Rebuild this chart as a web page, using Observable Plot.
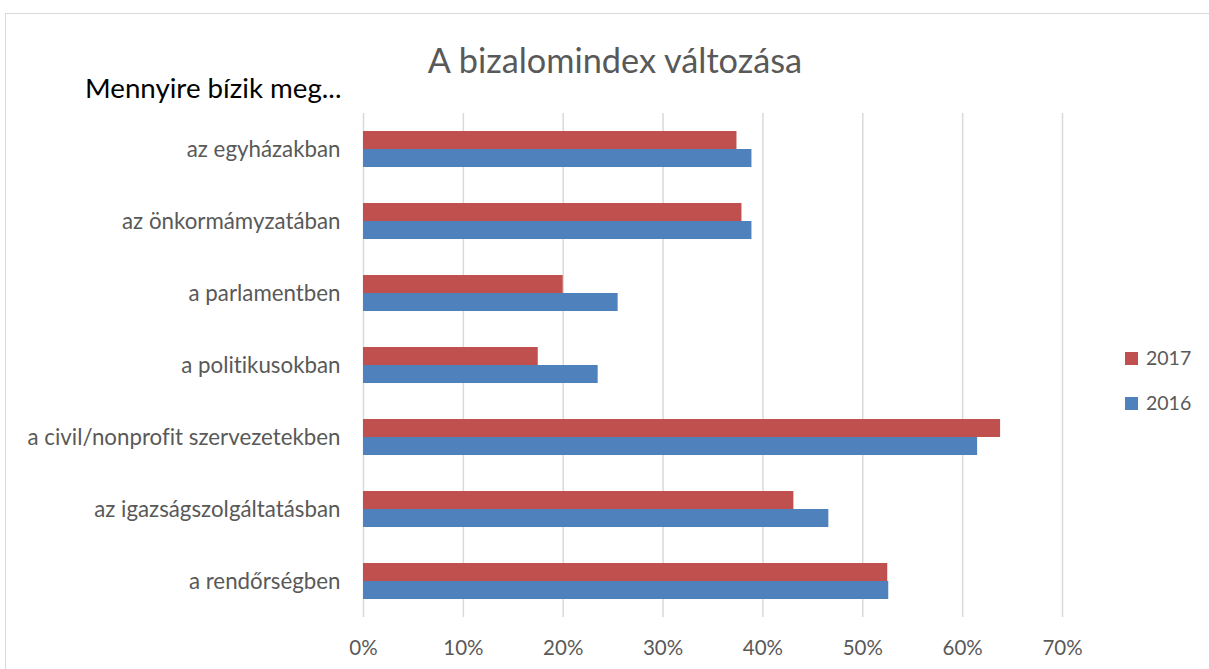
<!DOCTYPE html>
<html><head><meta charset="utf-8">
<script src="https://cdn.jsdelivr.net/npm/d3@7"></script>
<script src="https://cdn.jsdelivr.net/npm/@observablehq/plot@0.6"></script>
<style>
body{margin:0;background:#fff;font-family:Lato,"Open Sans",sans-serif;font-variant-ligatures:none}
#wrap{position:relative;width:1209px;height:669px;overflow:hidden;background:#fff}
#border{position:absolute;left:5px;top:13px;width:1300px;height:800px;border:1.5px solid #d9d9d9;box-sizing:border-box}
#plot{position:absolute;left:0;top:0}
#plot svg text{font-variant-ligatures:none}
#title{position:absolute;left:0;width:1230px;top:40px;text-align:center;font-size:34.3px;color:#595959;line-height:40px}
#sub{position:absolute;left:85px;top:73px;font-size:27.7px;color:#000;line-height:30px}
.leg{position:absolute;left:1125px;font-size:19.5px;color:#595959;line-height:20px;display:flex;align-items:center}
.sw{width:13px;height:13px;margin-right:8px}
</style></head>
<body><div id="wrap"><div id="border"></div><div id="plot"></div>
<div id="title">A bizalomindex változása</div>
<div id="sub">Mennyire bízik meg...</div>
<div id="legend"></div></div>
<script>
const categories = ["az egyházakban","az önkormámyzatában","a parlamentben","a politikusokban","a civil/nonprofit szervezetekben","az igazságszolgáltatásban","a rendőrségben"];
const values2017 = [0.374,0.379,0.200,0.175,0.638,0.431,0.525];
const values2016 = [0.389,0.389,0.255,0.235,0.615,0.466,0.526];
const years = ["2017","2016"];
const colors = ["#C0504D","#4F81BD"];
const xTicks = [0,0.1,0.2,0.3,0.4,0.5,0.6,0.7];

const d2017 = categories.map((c,i)=>({category:c, value:values2017[i]}));
const d2016 = categories.map((c,i)=>({category:c, value:values2016[i]}));

const chart = Plot.plot({
  width:1209, height:669,
  marginLeft:363, marginRight:147, marginTop:113, marginBottom:52,
  style:{background:"transparent", fontFamily:"Lato, 'Open Sans', sans-serif", fontSize:"22.3px", color:"#595959", overflow:"visible"},
  x:{domain:[0,0.7], ticks:xTicks, tickFormat:d=>Math.round(d*100)+"%", tickSize:0, tickPadding:23, label:null},
  y:{domain:categories, padding:0, tickSize:0, tickPadding:23, label:null},
  marks:[
    Plot.ruleX(xTicks,{x:d=>d, stroke:"#d9d9d9", strokeWidth:1.5}),
    Plot.barX(d2017,{x:"value", y:"category", fill:colors[0], insetTop:18, insetBottom:36}),
    Plot.barX(d2016,{x:"value", y:"category", fill:colors[1], insetTop:36, insetBottom:18})
  ]
});
chart.querySelectorAll('g[aria-label="x-axis tick label"], g[aria-label="x-axis"]').forEach(g=>g.setAttribute("font-size","20.5"));
document.getElementById("plot").appendChild(chart);

const legend = document.getElementById("legend");
const legTops = [348, 393];
years.forEach((y,i)=>{
  const el = document.createElement("div");
  el.className="leg"; el.style.top = legTops[i]+"px";
  el.innerHTML = `<div class="sw" style="background:${colors[i]}"></div><span>${y}</span>`;
  legend.appendChild(el);
});
</script></body></html>
